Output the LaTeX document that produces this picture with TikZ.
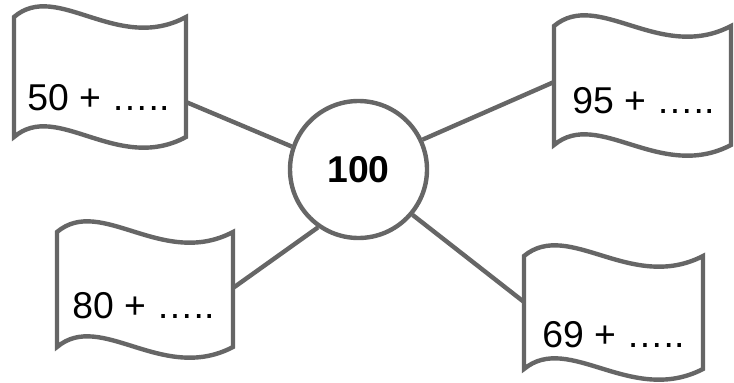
\documentclass[tikz,border=0pt]{standalone}
\usepackage{fontspec}
\setmainfont{Liberation Sans}
\definecolor{darkgrey}{RGB}{102,102,102}
% wavy note: left, right, top, height (in px)
\newcommand{\flagbox}[4]{%
  \filldraw[flag] (#1,#3) .. controls ({#1+0.25*(#2-#1)},{#3-37}) and ({#1+0.6*(#2-#1)},{#3+37}) .. (#2,#3)
    -- (#2,{#3+#4}) .. controls ({#1+0.6*(#2-#1)},{#3+#4+37}) and ({#1+0.25*(#2-#1)},{#3+#4-37}) .. (#1,{#3+#4}) -- cycle;}

\begin{document}
\begin{tikzpicture}[x=0.75pt,y=-0.75pt,
        flag/.style={draw=darkgrey, fill=white, line width=3.3pt},
        link/.style={darkgrey, line width=3.3pt},
        hub/.style={circle, draw=darkgrey, fill=white, line width=3.3pt, minimum size=102.75pt, inner sep=0pt, font=\fontsize{28}{33}\selectfont\bfseries},
        num/.style={inner sep=0pt, anchor=base west, font=\fontsize{28}{33}\selectfont}]
        \useasboundingbox (0,0) rectangle (734,382);
        \flagbox{14}{186}{17}{120}
        \flagbox{554}{731}{26}{119}
        \flagbox{57}{233}{232}{115}
        \flagbox{524}{703}{256}{113}
        \coordinate (e50) at (186,102);
        \coordinate (e95) at (554,82);
        \coordinate (e80) at (233,288);
        \coordinate (e69) at (524,302);
        \node[hub] (c) at (358.5,169.5) {100};
        \draw[link] (e50) -- (c.161);
        \draw[link] (e95) -- (c.25);
        \draw[link] (e80) -- (c.235);
        \draw[link] (e69) -- (c.320);
        \node[num] (t50) at (27,110) {50 + …..};
        \node[num] (t95) at (572,113) {95 + …..};
        \node[num] (t80) at (72,318) {80 + …..};
        \node[num] (t69) at (542,347) {69 + …..};
    \end{tikzpicture}
\end{document}
